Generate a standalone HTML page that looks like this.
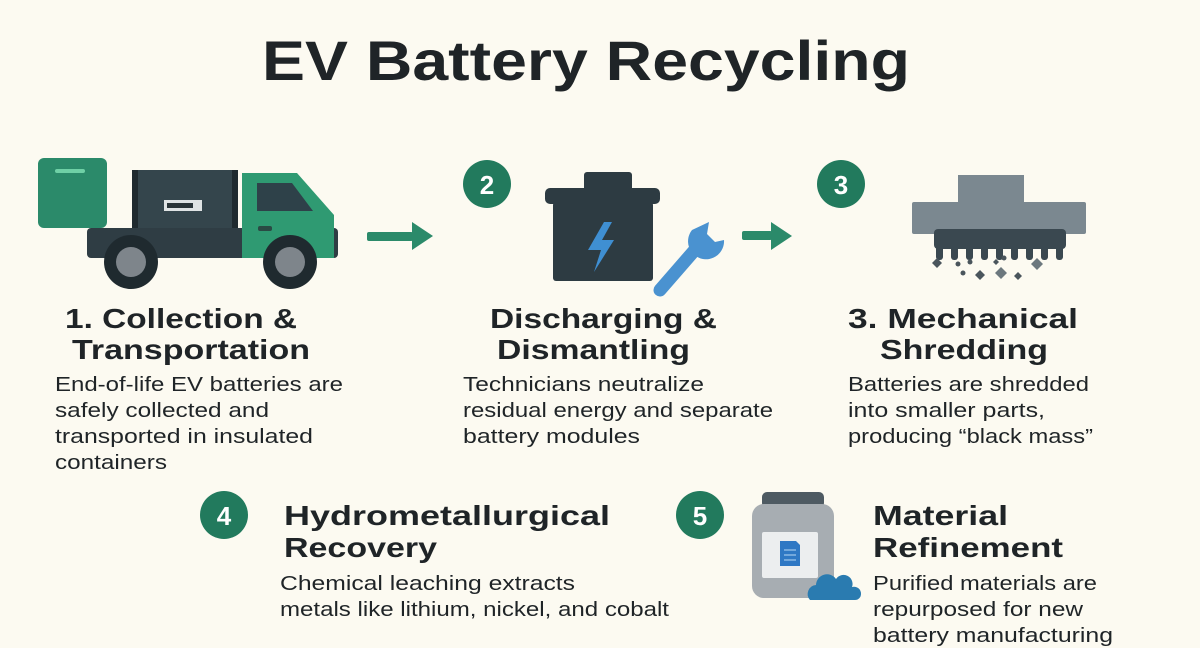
<!DOCTYPE html>
<html><head><meta charset="utf-8"><style>
html,body{margin:0;padding:0;background:#fcfaf1;}
svg{display:block;}
text{font-family:"Liberation Sans",sans-serif;fill:#1f2427;}
.h{font-size:28px;font-weight:bold;}
.b{font-size:20px;}
.n{font-size:26px;font-weight:bold;fill:#fff;}
</style></head><body>
<svg width="1200" height="648" viewBox="0 0 1200 648">
<rect width="1200" height="648" fill="#fcfaf1"/>
<text x="586" y="80" text-anchor="middle" font-size="56" font-weight="bold" textLength="648" lengthAdjust="spacingAndGlyphs">EV Battery Recycling</text>

<!-- truck -->
<rect x="38" y="158" width="69" height="70" rx="6" fill="#2b8a6a"/>
<rect x="55" y="169" width="30" height="4" rx="2" fill="#6fd0a6"/>
<rect x="87" y="228" width="251" height="30" rx="4" fill="#2f3d44"/>
<rect x="132" y="170" width="106" height="58" rx="3" fill="#34454c"/>
<rect x="132" y="170" width="6" height="58" fill="#1f2a2f"/>
<rect x="232" y="170" width="6" height="58" fill="#1f2a2f"/>
<rect x="164" y="200" width="38" height="11" fill="#dfe3e4"/>
<rect x="167" y="203" width="26" height="5" fill="#2a3438"/>
<path d="M242 173 H297 L334 215 V258 H242 Z" fill="#2f9a72"/>
<path d="M257 183 H292 L313 211 H257 Z" fill="#2e4149"/>
<rect x="258" y="226" width="14" height="5" rx="2" fill="#2a4a44"/>
<circle cx="131" cy="262" r="27" fill="#1f2a2f"/><circle cx="131" cy="262" r="15" fill="#7e858b"/>
<circle cx="290" cy="262" r="27" fill="#1f2a2f"/><circle cx="290" cy="262" r="15" fill="#7e858b"/>
<rect x="367" y="232" width="46" height="9" rx="2" fill="#2b8a6a"/>
<path d="M412 222 L433 236 L412 250 Z" fill="#2b8a6a"/>

<!-- step 2 -->
<circle cx="487" cy="184" r="24" fill="#227a5d"/>
<text class="n" x="487" y="194" text-anchor="middle">2</text>
<rect x="584" y="172" width="48" height="20" rx="3" fill="#2d3b42"/>
<rect x="545" y="188" width="115" height="16" rx="5" fill="#2d3b42"/>
<rect x="553" y="202" width="100" height="79" rx="3" fill="#2d3b42"/>
<path d="M604 222 L588 250 H601 L594 272 L614 240 H602 L612 222 Z" fill="#3f8fd2"/>
<path d="M660 290 L700 244" stroke="#4a92d0" stroke-width="13" stroke-linecap="round"/>
<path d="M692 230 a18 18 0 1 0 32 10 l-9 2 l-8 -8 l2 -12 Z" fill="#4a92d0"/>
<rect x="742" y="231" width="30" height="9" rx="2" fill="#2b8a6a"/>
<path d="M771 222 L792 236 L771 250 Z" fill="#2b8a6a"/>

<!-- step 3 -->
<circle cx="841" cy="184" r="24" fill="#227a5d"/>
<text class="n" x="841" y="194" text-anchor="middle">3</text>
<rect x="958" y="175" width="66" height="28" fill="#7b8890"/>
<rect x="912" y="202" width="174" height="32" rx="2" fill="#7b8890"/>
<rect x="934" y="229" width="132" height="20" rx="4" fill="#3a4850"/>
<g fill="#3a4850">
<rect x="936" y="245" width="7" height="15" rx="3"/><rect x="951" y="245" width="7" height="15" rx="3"/><rect x="966" y="245" width="7" height="15" rx="3"/><rect x="981" y="245" width="7" height="15" rx="3"/><rect x="996" y="245" width="7" height="15" rx="3"/><rect x="1011" y="245" width="7" height="15" rx="3"/><rect x="1026" y="245" width="7" height="15" rx="3"/><rect x="1041" y="245" width="7" height="15" rx="3"/><rect x="1056" y="245" width="7" height="15" rx="3"/>
</g>
<g fill="#4a555c">
<path d="M937 258 l5 5 l-5 5 l-5 -5z"/><circle cx="958" cy="264" r="2.5"/><circle cx="970" cy="262" r="2.5"/><circle cx="963" cy="273" r="2.5"/>
<path d="M980 270 l5 5 l-5 5 l-5 -5z"/><path d="M993 262 l3 -3 l3 3 l-3 3z"/><circle cx="1004" cy="258" r="2.5"/>
<path d="M1001 267 l6 6 l-6 6 l-6 -6z" fill="#6c787e"/><path d="M1037 258 l6 6 l-6 6 l-6 -6z" fill="#6c787e"/><path d="M1018 272 l4 4 l-4 4 l-4 -4z"/>
</g>

<!-- texts row 1 -->
<text class="h" x="65" y="328" textLength="232" lengthAdjust="spacingAndGlyphs">1. Collection &amp;</text>
<text class="h" x="72" y="359" textLength="238" lengthAdjust="spacingAndGlyphs">Transportation</text>
<text class="b" x="55" y="391" textLength="288" lengthAdjust="spacingAndGlyphs">End-of-life EV batteries are</text>
<text class="b" x="55" y="417" textLength="214" lengthAdjust="spacingAndGlyphs">safely collected and</text>
<text class="b" x="55" y="443" textLength="258" lengthAdjust="spacingAndGlyphs">transported in insulated</text>
<text class="b" x="55" y="469" textLength="112" lengthAdjust="spacingAndGlyphs">containers</text>

<text class="h" x="490" y="328" textLength="227" lengthAdjust="spacingAndGlyphs">Discharging &amp;</text>
<text class="h" x="497" y="359" textLength="193" lengthAdjust="spacingAndGlyphs">Dismantling</text>
<text class="b" x="463" y="391" textLength="241" lengthAdjust="spacingAndGlyphs">Technicians neutralize</text>
<text class="b" x="463" y="417" textLength="310" lengthAdjust="spacingAndGlyphs">residual energy and separate</text>
<text class="b" x="463" y="443" textLength="177" lengthAdjust="spacingAndGlyphs">battery modules</text>

<text class="h" x="848" y="328" textLength="230" lengthAdjust="spacingAndGlyphs">3. Mechanical</text>
<text class="h" x="880" y="359" textLength="168" lengthAdjust="spacingAndGlyphs">Shredding</text>
<text class="b" x="848" y="391" textLength="241" lengthAdjust="spacingAndGlyphs">Batteries are shredded</text>
<text class="b" x="848" y="417" textLength="197" lengthAdjust="spacingAndGlyphs">into smaller parts,</text>
<text class="b" x="848" y="443" textLength="245" lengthAdjust="spacingAndGlyphs">producing “black mass”</text>

<!-- row 2 -->
<circle cx="224" cy="515" r="24" fill="#227a5d"/>
<text class="n" x="224" y="525" text-anchor="middle">4</text>
<text class="h" x="284" y="525" textLength="326" lengthAdjust="spacingAndGlyphs">Hydrometallurgical</text>
<text class="h" x="284" y="557" textLength="153" lengthAdjust="spacingAndGlyphs">Recovery</text>
<text class="b" x="280" y="590" textLength="295" lengthAdjust="spacingAndGlyphs">Chemical leaching extracts</text>
<text class="b" x="280" y="616" textLength="389" lengthAdjust="spacingAndGlyphs">metals like lithium, nickel, and cobalt</text>

<circle cx="700" cy="515" r="24" fill="#227a5d"/>
<text class="n" x="700" y="525" text-anchor="middle">5</text>
<rect x="762" y="492" width="62" height="16" rx="5" fill="#4e5a62"/>
<rect x="752" y="504" width="82" height="94" rx="12" fill="#a7adb2"/>
<rect x="762" y="532" width="56" height="46" rx="2" fill="#eceeef"/>
<path d="M780 541 h16 l4 4 v21 h-20 Z" fill="#2f78c4"/>
<path d="M784 550 h12 M784 555 h12 M784 560 h12" stroke="#9cc4ea" stroke-width="1.3"/>
<path d="M810 600 a9 9 0 0 1 6 -15 a11 11 0 0 1 20 -6 a9 9 0 0 1 16 8 a7 7 0 0 1 9 7 a6 6 0 0 1 -6 6 Z" fill="#2a7bb0"/>
<text class="h" x="873" y="525" textLength="135" lengthAdjust="spacingAndGlyphs">Material</text>
<text class="h" x="873" y="557" textLength="190" lengthAdjust="spacingAndGlyphs">Refinement</text>
<text class="b" x="873" y="590" textLength="224" lengthAdjust="spacingAndGlyphs">Purified materials are</text>
<text class="b" x="873" y="616" textLength="210" lengthAdjust="spacingAndGlyphs">repurposed for new</text>
<text class="b" x="873" y="642" textLength="240" lengthAdjust="spacingAndGlyphs">battery manufacturing</text>
</svg>
</body></html>
